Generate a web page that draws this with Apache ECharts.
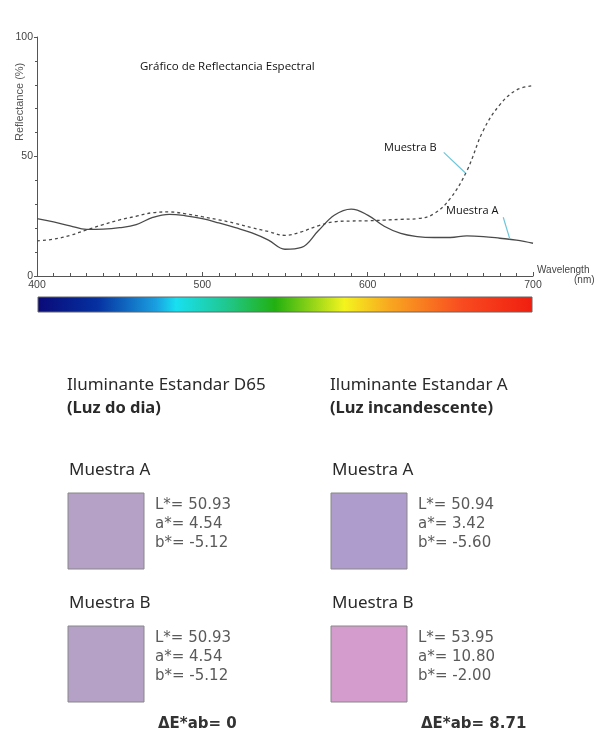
<!DOCTYPE html>
<html lang="es">
<head>
    <meta charset="UTF-8">
    <title>Gráfico de Reflectancia Espectral</title>
    <style>
        *{
            padding: 0;
            margin: 0;
        }
        body{
            background: #fff;
        }
        #main{
            width: 598px;
            height: 738px;
        }
    </style>
</head>
<body>
<div id="main"></div>
<script src="https://cdn.jsdelivr.net/npm/echarts@6/dist/echarts.min.js"></script>
<script type="text/javascript">
    // longitudes de onda (nm)
    var wavelengths = [400, 410, 420, 430, 440, 450, 460, 470, 480, 490, 500,
        510, 520, 530, 540, 550, 560, 570, 580, 590, 600,
        610, 620, 630, 640, 650, 660, 670, 680, 690, 700];
    // reflectancia (%) muestra A (linea continua)
    var muestraA = [24.0, 22.6, 21.0, 19.5, 19.6, 20.2, 21.5, 24.5, 25.8, 25.2, 24.0,
        22.2, 20.2, 18.0, 15.0, 11.2, 12.0, 18.8, 25.5, 28.0, 25.5,
        20.8, 17.8, 16.5, 16.1, 16.1, 16.8, 16.5, 15.8, 15.0, 13.7];
    // reflectancia (%) muestra B (linea discontinua)
    var muestraB = [14.7, 15.4, 17.0, 19.3, 21.5, 23.5, 25.0, 26.5, 26.8, 26.0, 24.8,
        23.5, 22.0, 20.2, 18.6, 17.0, 18.5, 21.0, 22.7, 23.0, 23.1,
        23.4, 23.7, 24.0, 26.0, 32.5, 44.0, 61.0, 71.7, 77.8, 79.6];
    var yTicks = [0, 50, 100];
    var xTicks = [400, 500, 600, 700];

    // valores CIELAB por iluminante
    var iluminantes = ['Iluminante Estandar D65', 'Iluminante Estandar A'];
    var subtitulos = ['(Luz do dia)', '(Luz incandescente)'];
    var muestras = ['Muestra A', 'Muestra B'];
    var labD65 = [['50.93', '4.54', '-5.12'], ['50.93', '4.54', '-5.12']];
    var labA = [['50.94', '3.42', '-5.60'], ['53.95', '10.80', '-2.00']];
    var coloresD65 = ['#b5a0c6', '#b5a0c6'];
    var coloresA = ['#ad9ccc', '#d39ccd'];
    var deltaE = ['0', '8.71'];

    var myChart = echarts.init(document.getElementById('main'));

    function serie(nombre, valores, tipo) {
        return {
            name: nombre,
            type: 'line',
            smooth: 0.4,
            symbol: 'none',
            lineStyle: {color: '#4a4a4a', width: 1.3, type: tipo},
            data: wavelengths.map(function (w, i) { return [w, valores[i]]; })
        };
    }

    var sA = serie('Muestra A', muestraA, 'solid');
    sA.markLine = {
        silent: true, symbol: 'none', label: {show: false},
        lineStyle: {color: '#6cc6da', width: 1.2, type: 'solid'},
        data: [[{coord: [682, 24.6]}, {coord: [686, 15.4]}]]
    };
    var sB = serie('Muestra B', muestraB, [3, 3]);
    sB.markLine = {
        silent: true, symbol: 'none', label: {show: false},
        lineStyle: {color: '#6cc6da', width: 1.2, type: 'solid'},
        data: [[{coord: [646, 51.7]}, {coord: [659, 43.2]}]]
    };

    // bloques de texto y muestras de color
    var graficos = [
        {type: 'text', left: 140, top: 61, style: {text: 'Gráfico de Reflectancia Espectral', font: '11.5px "Open Sans"', fill: '#111'}},
        {type: 'text', x: 20, y: 141, rotation: Math.PI / 2,
            style: {text: 'Reflectance (%)', font: '11px "Liberation Sans"', fill: '#555', textAlign: 'left', textVerticalAlign: 'middle'}},
        {type: 'text', left: 537, top: 265, style: {text: 'Wavelength', font: '10px "Liberation Sans"', fill: '#444'}},
        {type: 'text', left: 574, top: 275, style: {text: '(nm)', font: '10px "Liberation Sans"', fill: '#444'}},
        {type: 'text', left: 384, top: 142, style: {text: 'Muestra B', font: '11px "Open Sans"', fill: '#111'}},
        {type: 'text', left: 446, top: 205, style: {text: 'Muestra A', font: '11px "Open Sans"', fill: '#111'}},
        {type: 'rect', shape: {x: 38, y: 297, width: 494, height: 15},
            style: {
                stroke: '#666', lineWidth: 1,
                fill: new echarts.graphic.LinearGradient(0, 0, 1, 0, [
                    {offset: 0, color: '#0a0a78'},
                    {offset: 0.12, color: '#0530a0'},
                    {offset: 0.24, color: '#1aa0e0'},
                    {offset: 0.28, color: '#18e0f0'},
                    {offset: 0.38, color: '#20c890'},
                    {offset: 0.48, color: '#22b010'},
                    {offset: 0.62, color: '#f4f41e'},
                    {offset: 0.71, color: '#f8a820'},
                    {offset: 0.86, color: '#f84a20'},
                    {offset: 1, color: '#f01e10'}
                ])
            }}
    ];

    var colX = [67, 330];
    iluminantes.forEach(function (nombre, c) {
        var x = colX[c];
        var lab = c === 0 ? labD65 : labA;
        var col = c === 0 ? coloresD65 : coloresA;
        graficos.push({type: 'text', left: x, top: 377, style: {text: nombre, font: '17px "Noto Sans"', fill: '#2a2a2a'}});
        graficos.push({type: 'text', left: x, top: 400, style: {text: subtitulos[c], font: 'bold 16.5px "Noto Sans"', fill: '#2a2a2a'}});
        muestras.forEach(function (m, r) {
            var y0 = r === 0 ? 462 : 595;
            graficos.push({type: 'text', left: x + 2, top: y0, style: {text: m, font: '17px "Noto Sans"', fill: '#2a2a2a'}});
            graficos.push({type: 'rect', shape: {x: x + 1, y: y0 + 31, width: 76, height: 76},
                style: {fill: col[r], stroke: '#888', lineWidth: 1}});
            graficos.push({type: 'text', left: x + 88, top: y0 + 34, style: {
                text: 'L*= ' + lab[r][0] + '\na*= ' + lab[r][1] + '\nb*= ' + lab[r][2],
                font: '15px "DejaVu Sans"', lineHeight: 19, fill: '#5a5a5a'}});
        });
        graficos.push({type: 'text', left: x + 91, top: 717, style: {
            text: 'ΔE*ab= ' + deltaE[c], font: 'bold 15px "DejaVu Sans"', fill: '#333'}});
    });

    var option = {
        backgroundColor: '#fff',
        animation: false,
        grid: {left: 37, right: 65, top: 37, height: 239, containLabel: false, outerBoundsMode: 'none'},
        xAxis: {
            type: 'value', min: 400, max: 700, interval: 100,
            axisLine: {lineStyle: {color: '#555', width: 1}},
            axisTick: {inside: true, length: 4, lineStyle: {color: '#555'}},
            minorTick: {show: true, splitNumber: 10, length: 3, lineStyle: {color: '#555'}},
            axisLabel: {color: '#444', fontSize: 10.5, fontFamily: 'Liberation Sans', margin: 4,
                customValues: xTicks},
            splitLine: {show: false}
        },
        yAxis: {
            type: 'value', min: 0, max: 100, interval: 50,
            axisLine: {show: true, lineStyle: {color: '#555', width: 1}},
            axisTick: {show: true, length: 3, lineStyle: {color: '#555'}},
            minorTick: {show: true, splitNumber: 5, length: 2, lineStyle: {color: '#555'}},
            axisLabel: {color: '#444', fontSize: 10.5, fontFamily: 'Liberation Sans', margin: 4,
                customValues: yTicks},
            splitLine: {show: false}
        },
        graphic: graficos,
        series: [sA, sB]
    };
    myChart.setOption(option);
</script>
</body>
</html>
